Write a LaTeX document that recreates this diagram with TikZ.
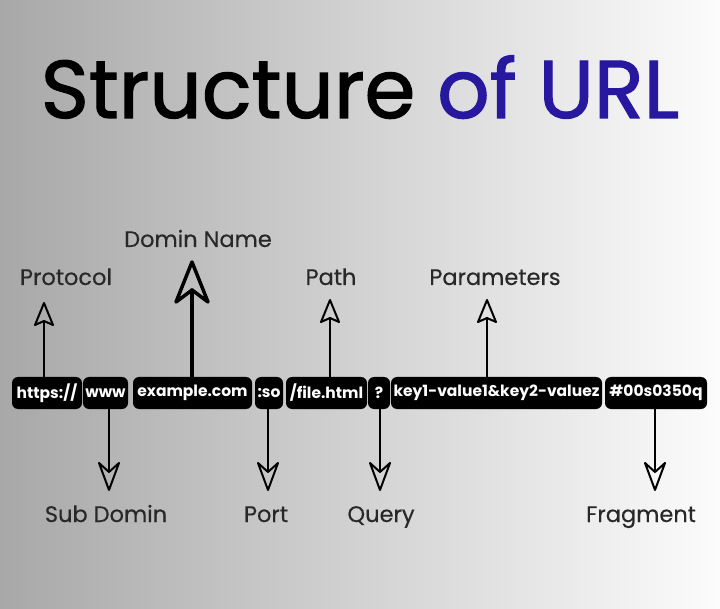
\documentclass[tikz,border=0pt]{standalone}
\usepackage{fontspec}
\setmainfont{Poppins}
\newfontfamily\titlefont[FakeBold=1.4]{Poppins}
\newfontfamily\labfont[FakeBold=0.3]{Poppins}
\usetikzlibrary{arrows.meta}
\definecolor{bgL}{RGB}{168,168,168}
\definecolor{bgR}{RGB}{252,252,252}
\definecolor{titleblue}{RGB}{40,24,160}
\definecolor{labelgray}{RGB}{40,40,40}
\tikzset{
  pill/.style={fill=black, rounded corners=6pt, minimum height=32pt, inner sep=0pt, text=white, font=\fontsize{15.5}{15.5}\selectfont\bfseries, anchor=center},
  lab/.style={text=labelgray, font=\fontsize{22.5}{22.5}\labfont, inner sep=0pt, anchor=base},
  shaft/.style={draw=black, line width=2pt, line cap=round},
  bigshaft/.style={draw=black, line width=3.5pt, line cap=round},
  headline/.style={draw=black, line width=2pt, line join=round, fill=none},
  uphead/.pic={\draw[headline] (-9,22) -- (0,0) -- (9,22) -- (0,18) -- cycle;},
  downhead/.pic={\draw[headline] (-10,-27) -- (0,0) -- (10,-27) -- (0,-18) -- cycle;},
  bighead/.pic={\draw[headline, line width=3.5pt] (-16,40) -- (0,0) -- (16,40) -- (0,28) -- cycle;},
}
\begin{document}
\begin{tikzpicture}[x=1pt, y=-1pt]
\shade[left color=bgL, right color=bgR] (0,0) rectangle (720,609);
\useasboundingbox (0,0) rectangle (720,609);
% title
\node[font=\fontsize{82}{82}\titlefont, inner sep=0pt, anchor=base] (title) at (360,118) {Structure \textcolor{titleblue}{of URL}};
% pills
\node[pill, minimum width=70pt] (proto) at (47,393) {https://};
\node[pill, minimum width=45pt] (sub) at (105.5,393) {www};
\node[pill, minimum width=119pt] (dom) at (192.5,393) {example.com};
\node[pill, minimum width=28pt] (port) at (269,393) {:so};
\node[pill, minimum width=81pt] (path) at (326.5,393) {/file.html};
\node[pill, minimum width=22pt] (query) at (379,393) {?};
\node[pill, minimum width=211pt] (param) at (496.5,393) {key1-value1\&key2-valuez};
\node[pill, minimum width=102pt] (frag) at (656,393) {\#00s0350q};
% labels
\node[lab] (lProto) at (66,285) {Protocol};
\node[lab] (lDom) at (198,247) {Domin Name};
\node[lab] (lPath) at (331,285) {Path};
\node[lab] (lParam) at (495,285) {Parameters};
\node[lab] (lSub) at (106,522) {Sub Domin};
\node[lab] (lPort) at (266,522) {Port};
\node[lab] (lQuery) at (381,522) {Query};
\node[lab] (lFrag) at (641,522) {Fragment};
% arrow tips and notches
\coordinate (tProto) at (44,303);  \coordinate (nProto) at (44,321);
\coordinate (tDom) at (192,262);   \coordinate (nDom) at (192,290);
\coordinate (tPath) at (330,300);  \coordinate (nPath) at (330,318);
\coordinate (tParam) at (487,300); \coordinate (nParam) at (487,318);
\coordinate (tSub) at (109,490);   \coordinate (nSub) at (109,472);
\coordinate (tPort) at (268,490);  \coordinate (nPort) at (268,472);
\coordinate (tQuery) at (380,490); \coordinate (nQuery) at (380,472);
\coordinate (tFrag) at (655,490);  \coordinate (nFrag) at (655,472);
% connectors
\draw[shaft] (proto.north -| nProto) -- (nProto);
\pic at (tProto) {uphead};
\draw[bigshaft] (dom.north -| nDom) -- (nDom);
\pic at (tDom) {bighead};
\draw[shaft] (path.north -| nPath) -- (nPath);
\pic at (tPath) {uphead};
\draw[shaft] (param.north -| nParam) -- (nParam);
\pic at (tParam) {uphead};
\draw[shaft] (sub.south -| nSub) -- (nSub);
\pic at (tSub) {downhead};
\draw[shaft] (port.south -| nPort) -- (nPort);
\pic at (tPort) {downhead};
\draw[shaft] (query.south -| nQuery) -- (nQuery);
\pic at (tQuery) {downhead};
\draw[shaft] (frag.south -| nFrag) -- (nFrag);
\pic at (tFrag) {downhead};
\end{tikzpicture}
\end{document}
